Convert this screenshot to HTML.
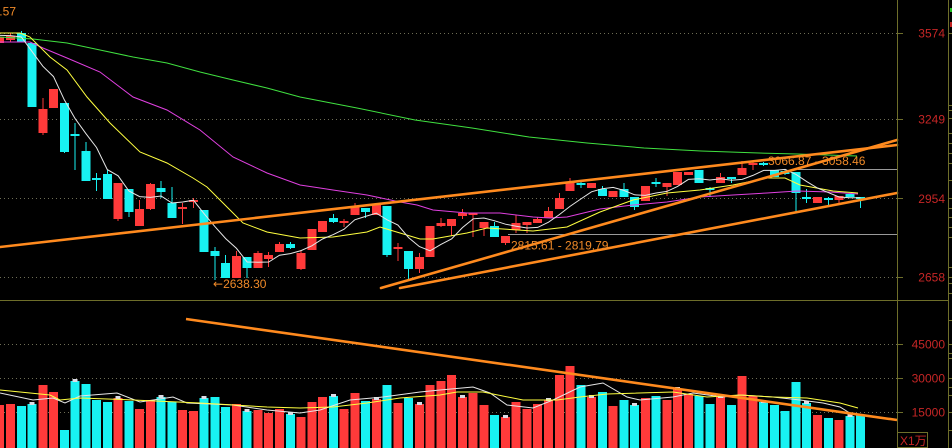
<!DOCTYPE html>
<html>
<head>
<meta charset="utf-8">
<style>
html,body{margin:0;padding:0;background:#000;}
body{width:952px;height:448px;overflow:hidden;}
svg{display:block;}
text{font-family:"Liberation Sans","DejaVu Sans","Noto Sans CJK SC",sans-serif;}
</style>
</head>
<body>
<svg width="952" height="448" viewBox="0 0 952 448" xmlns="http://www.w3.org/2000/svg">
<rect x="0" y="0" width="952" height="448" fill="#000"/>

<!-- dotted gridlines -->
<g stroke="#6e6e56" stroke-width="1" stroke-dasharray="1 3" shape-rendering="crispEdges">
<line x1="0" y1="33.5" x2="897" y2="33.5"/>
<line x1="0" y1="119.5" x2="897" y2="119.5"/>
<line x1="0" y1="198.5" x2="897" y2="198.5"/>
<line x1="0" y1="277.5" x2="897" y2="277.5"/>
<line x1="0" y1="344.5" x2="897" y2="344.5"/>
<line x1="0" y1="378.5" x2="897" y2="378.5"/>
<line x1="0" y1="412.5" x2="897" y2="412.5"/>
</g>

<!-- volume bars -->
<g shape-rendering="crispEdges">
<path fill="#ff3a3a" d="M-4.8 405h9V448h-9z M6 404h9V448h-9z M38.3 385h9V448h-9z M49 392h9V448h-9z M113.6 398h9V448h-9z M135.1 409h9V448h-9z M145.9 400h9V448h-9z M178.2 410h9V448h-9z M188.9 411h9V448h-9z M232 404h9V448h-9z M253.5 410h9V448h-9z M264.2 413h9V448h-9z M275 409h9V448h-9z M296.5 417h9V448h-9z M307.3 402h9V448h-9z M318 397h9V448h-9z M339.6 409h9V448h-9z M350.3 393h9V448h-9z M371.8 399h9V448h-9z M393.4 403h9V448h-9z M414.9 404h9V448h-9z M425.6 385h9V448h-9z M436.4 381h9V448h-9z M447.2 375h9V448h-9z M457.9 397h9V448h-9z M468.7 393h9V448h-9z M479.4 405h9V448h-9z M501 417h9V448h-9z M511.7 402h9V448h-9z M522.5 409h9V448h-9z M533.2 404h9V448h-9z M544 400h9V448h-9z M554.8 375h9V448h-9z M565.5 366h9V448h-9z M587 397h9V448h-9z M608.6 406h9V448h-9z M640.8 398h9V448h-9z M662.4 400h9V448h-9z M673.1 389h9V448h-9z M683.9 394h9V448h-9z M716.2 397h9V448h-9z M737.7 376h9V448h-9z M748.4 396h9V448h-9z M813 415h9V448h-9z M834.5 420h9V448h-9z"/>
<path fill="#18f2f2" d="M16.8 406h9V448h-9z M27.5 404h9V448h-9z M59.8 430h9V448h-9z M70.6 381h9V448h-9z M81.3 384h9V448h-9z M92.1 400h9V448h-9z M102.8 402h9V448h-9z M124.4 401h9V448h-9z M156.6 397h9V448h-9z M167.4 402h9V448h-9z M199.7 398h9V448h-9z M210.4 397h9V448h-9z M221.2 407h9V448h-9z M242.7 411h9V448h-9z M285.8 414h9V448h-9z M328.8 396h9V448h-9z M361.1 401h9V448h-9z M382.6 385h9V448h-9z M404.1 398h9V448h-9z M490.2 415h9V448h-9z M576.3 385h9V448h-9z M597.8 392h9V448h-9z M619.3 400h9V448h-9z M630.1 405h9V448h-9z M651.6 396h9V448h-9z M694.6 396h9V448h-9z M705.4 404h9V448h-9z M726.9 405h9V448h-9z M759.2 402h9V448h-9z M770 405h9V448h-9z M780.7 411h9V448h-9z M791.5 382h9V448h-9z M802.2 403h9V448h-9z M823.8 418h9V448h-9z M845.3 416h9V448h-9z M856 415h9V448h-9z"/>
<path fill="#dcdce6" d="M29.5 402h5v3h-5z M72.6 379h5v3h-5z M115.6 396h5v3h-5z M158.6 395h5v3h-5z M201.7 396h5v3h-5z M244.7 409h5v3h-5z M287.8 412h5v3h-5z M330.8 394h5v3h-5z M373.8 397h5v3h-5z M416.9 402h5v3h-5z M459.9 395h5v3h-5z M503 415h5v3h-5z M546 398h5v3h-5z M589 395h5v3h-5z M632.1 403h5v3h-5z M675.1 387h5v3h-5z M718.2 395h5v3h-5z M761.2 400h5v3h-5z M804.2 401h5v3h-5z M847.3 414h5v3h-5z"/>
</g>

<!-- volume MA lines -->
<polyline fill="none" stroke="#e6e6e6" stroke-width="1" points="0,393 33,400 53,398 65,403 80,396 117,393 140,402 173,397 187,403 233,405 267,410 300,413 320,410 350,400 383,397 420,392 440,390 473,387 490,393 507,405 533,408 553,400 580,387 603,383 627,397 640,400 673,397 693,393 723,397 740,395 773,397 800,400 823,403 840,407 853,415"/>
<polyline fill="none" stroke="#ffff40" stroke-width="1" points="0,390 50,395 60,400 80,398 133,400 200,403 267,407 300,408 333,407 367,403 400,398 440,395 457,392 483,392 523,400 557,400 580,397 607,394 673,392 707,397 740,395 773,397 807,398 840,403 858,408"/>

<!-- volume trend line -->
<line x1="186" y1="319" x2="897" y2="420" stroke="#ff8a1e" stroke-width="2.6"/>

<!-- candles -->
<g shape-rendering="crispEdges">
<path fill="none" stroke="#ff3a3a" stroke-width="1" d="M-0.3 36V44M10.5 33V42M42.8 98V135M118.1 183V221M139.6 200V226M150.4 183V210M182.7 203V224M193.4 198V208M236.5 251V278M258 251V268M268.7 252V267M279.5 242V252M301 250V270M344.1 219V227M354.8 203V215M397.9 243V261M419.4 253V273M440.9 218V227M451.7 219V236M462.4 209V219M473.2 213V237M483.9 222V236M505.5 236V245M516.2 215V233M527 222V233M537.7 217V223M548.5 207V218M559.3 193V209M570 178V191M666.9 183V196M720.7 173V183M742.2 161V175M752.9 161V170M839 196V203"/>
<path fill="none" stroke="#18f2f2" stroke-width="1" d="M21.3 31V42M64.3 103V153M75.1 123V170M85.8 142V181M96.6 173V191M107.3 170V199M128.9 189V217M161.1 181V198M171.9 187V218M214.9 247V280M225.7 255V278M247.2 257V278M290.3 242V249M333.3 214V223M365.6 208V218M387.1 206V257M408.6 251V281M494.7 222V237M580.8 182V188M602.3 186V196M623.8 183V197M634.6 197V210M656.1 178V187M709.9 187V197M731.4 177V183M763.7 162V166M785.2 170V175M796 172V212M806.7 189V203M828.3 197V205M860.5 197V208"/>
<path fill="#ff3a3a" d="M-4.8 37h9v6h-9z M6 36h9v4h-9z M38.3 109h9v24h-9z M49 89h9v19h-9z M113.6 183h9v36h-9z M135.1 209h9v17h-9z M145.9 184h9v25h-9z M178.2 207h9v2h-9z M188.9 200h9v2h-9z M232 256h9v22h-9z M253.5 253h9v15h-9z M264.2 255h9v4h-9z M275 244h9v8h-9z M296.5 253h9v16h-9z M307.3 229h9v21h-9z M318 221h9v11h-9z M339.6 221h9v2h-9z M350.3 206h9v9h-9z M371.8 205h9v10h-9z M393.4 247h9v2h-9z M414.9 257h9v12h-9z M425.6 226h9v31h-9z M436.4 223h9v3h-9z M447.2 219h9v7h-9z M457.9 213h9v3h-9z M468.7 213h9v2h-9z M479.4 222h9v6h-9z M501 236h9v7h-9z M511.7 223h9v7h-9z M522.5 222h9v3h-9z M533.2 219h9v4h-9z M544 211h9v7h-9z M554.8 198h9v11h-9z M565.5 182h9v9h-9z M587 183h9v5h-9z M608.6 191h9v6h-9z M640.8 186h9v15h-9z M662.4 183h9v4h-9z M673.1 172h9v13h-9z M683.9 172h9v3h-9z M716.2 177h9v6h-9z M737.7 168h9v7h-9z M748.4 163h9v2h-9z M813 197h9v6h-9z M834.5 196h9v4h-9z"/>
<path fill="#18f2f2" d="M16.8 33h9v9h-9z M27.5 43h9v64h-9z M59.8 103h9v49h-9z M70.6 134h9v2h-9z M81.3 151h9v30h-9z M92.1 178h9v2h-9z M102.8 174h9v25h-9z M124.4 189h9v23h-9z M156.6 188h9v4h-9z M167.4 203h9v15h-9z M199.7 210h9v42h-9z M210.4 251h9v5h-9z M221.2 263h9v15h-9z M242.7 257h9v11h-9z M285.8 244h9v4h-9z M328.8 218h9v4h-9z M361.1 208h9v4h-9z M382.6 206h9v49h-9z M404.1 251h9v18h-9z M490.2 226h9v11h-9z M576.3 183h9v2h-9z M597.8 189h9v7h-9z M619.3 189h9v8h-9z M630.1 197h9v10h-9z M651.6 182h9v2h-9z M694.6 170h9v13h-9z M705.4 188h9v2h-9z M726.9 177h9v2h-9z M759.2 163h9v2h-9z M770 170h9v7h-9z M780.7 171h9v3h-9z M791.5 172h9v21h-9z M802.2 197h9v2h-9z M823.8 198h9v2h-9z M845.3 194h9v3h-9z M856 197h9v2h-9z"/>
</g>

<!-- price MA lines -->
<polyline fill="none" stroke="#40e040" stroke-width="1" points="0,37 33,39 67,43 100,50 133,57 167,63 200,72 233,80 267,88 300,97 357,108 415,120 472,128 529,137 587,143 644,148 701,151 759,153 797,154 857,156"/>
<polyline fill="none" stroke="#e040e0" stroke-width="1" points="0,42 30,42 43,48 67,58 100,72 133,97 167,110 200,130 233,157 267,173 300,185 320,188 333,190 367,195 400,202 417,205 433,210 467,213 500,213 533,217 550,218 567,217 600,209 633,205 667,202 700,197 733,195 767,193 797,191 830,192 858,194"/>
<polyline fill="none" stroke="#ffff40" stroke-width="1" points="0,33 20,33 30,37 50,57 67,70 87,97 110,123 140,152 167,163 193,178 207,187 227,207 243,223 267,232 300,238 333,237 367,232 380,227 400,233 420,239 433,239 467,233 487,228 533,231 567,227 600,212 633,200 667,193 700,190 733,185 767,178 785,178 800,185 833,191 858,193"/>
<polyline fill="none" stroke="#e6e6e6" stroke-width="1" points="-0.3,35.4 10.5,35.6 21.3,37 32,51.4 42.8,66.2 53.5,76.6 64.3,99.8 75.1,118.6 85.8,133.4 96.6,147.6 107.3,169.6 118.1,175.8 128.9,191 139.6,196.6 150.4,197.4 161.1,196 171.9,203 182.7,202 193.4,200.2 204.2,213.8 214.9,226.6 225.7,238.6 236.5,248.4 247.2,262 258,262.2 268.7,262 279.5,255.2 290.3,253.6 301,250.6 311.8,245.8 322.5,239 333.3,234.6 344.1,229.2 354.8,219.8 365.6,216.4 376.3,213.2 387.1,219.8 397.9,225 408.6,237.6 419.4,246.6 430.1,250.8 440.9,244.4 451.7,238.8 462.4,227.6 473.2,218.8 483.9,218 494.7,220.8 505.5,224.2 516.2,226.2 527,228 537.7,227.4 548.5,222.2 559.3,214.6 570,206.4 580.8,199 591.5,191.8 602.3,188.8 613.1,187.4 623.8,190.4 634.6,194.8 645.3,195.4 656.1,193 666.9,191.4 677.6,186.4 688.4,179.4 699.1,178.8 709.9,180 720.7,178.8 731.4,180.2 742.2,179.4 752.9,175.4 763.7,170.4 774.5,170.4 785.2,169.4 796,174.4 806.7,181.6 817.5,188 828.3,192.6 839,197 849.8,197.8 860.5,197.8"/>

<!-- grey horizontal marker lines -->
<g stroke="#9a9a9a" stroke-width="1" shape-rendering="crispEdges">
<line x1="798" y1="169.5" x2="897" y2="169.5"/>
<line x1="508" y1="234.5" x2="897" y2="234.5"/>
</g>

<!-- orange trend lines -->
<g stroke="#ff8a1e" stroke-width="2.6" stroke-linecap="round">
<line x1="0" y1="247" x2="897" y2="145"/>
<line x1="381" y1="288" x2="897" y2="140"/>
<line x1="400" y1="288" x2="897" y2="193"/>
</g>

<!-- annotations -->
<g fill="#f08a28" font-size="12">
<text x="16" y="15.5" text-anchor="end">3587.57</text>
<text x="768" y="165">3066.87 - 3058.46</text>
<text x="511" y="249.5">2815.61 - 2819.79</text>
<text x="213" y="288"><tspan font-family="DejaVu Sans, sans-serif">←</tspan>2638.30</text>
</g>

<!-- axes frame -->
<g stroke="#6e6e2a" stroke-width="1" shape-rendering="crispEdges">
<line x1="897.5" y1="0" x2="897.5" y2="448"/>
<line x1="948.5" y1="0" x2="948.5" y2="448"/>
<line x1="0" y1="300.5" x2="949" y2="300.5"/>
<line x1="897" y1="33.5" x2="903" y2="33.5"/>
<line x1="897" y1="119.5" x2="903" y2="119.5"/>
<line x1="897" y1="198.5" x2="903" y2="198.5"/>
<line x1="897" y1="277.5" x2="903" y2="277.5"/>
<line x1="897" y1="344.5" x2="903" y2="344.5"/>
<line x1="897" y1="378.5" x2="903" y2="378.5"/>
<line x1="897" y1="412.5" x2="903" y2="412.5"/>
<path fill="none" d="M948 33.5h4M948 105.5h4M948 110.5h4M948 118.5h4M948 133.5h4M948 143.5h4M948 153.5h4M948 163.5h4M948 180.5h4M948 198.5h4M948 208.5h4M948 217.5h4M948 227.5h4M948 237.5h4M948 267.5h4M948 277.5h4M948 283.5h4M948 293.5h4M948 320.5h4M948 344.5h4M948 353.5h4M948 358.5h4M948 378.5h4M948 387.5h4M948 395.5h4M948 412.5h4M948 430.5h4"/>
<rect x="897.5" y="432.5" width="30" height="15" fill="none"/>
</g>
<rect x="950" y="8" width="2" height="4" fill="#20c020"/>
<rect x="950" y="22" width="2" height="5" fill="#c02020"/>

<!-- axis labels -->
<g fill="#c62626" font-size="12" text-anchor="end">
<text x="945" y="37.5">3574</text>
<text x="945" y="123.5">3249</text>
<text x="945" y="203">2954</text>
<text x="945" y="281.5">2658</text>
<text x="945" y="348.5">45000</text>
<text x="945" y="382.5">30000</text>
<text x="945" y="416.5">15000</text>
</g>
<text x="900" y="445" fill="#c62626" font-size="12" font-family="Liberation Sans, Noto Sans CJK SC, sans-serif">X1万</text>
</svg>
</body>
</html>
